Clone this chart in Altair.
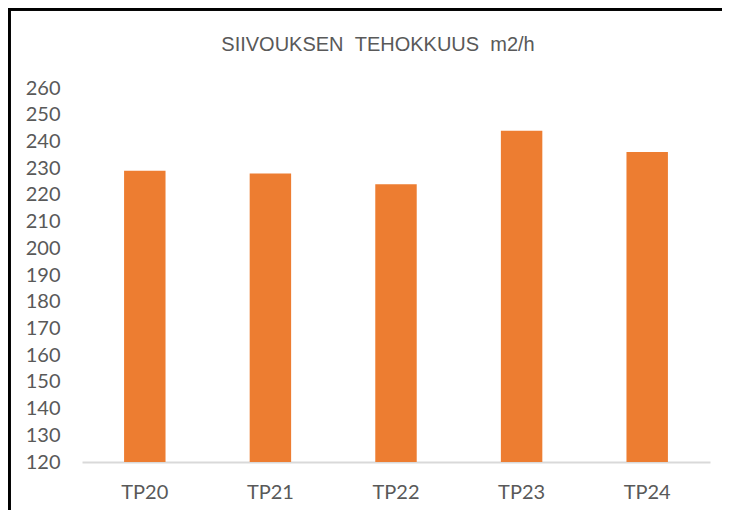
import altair as alt
import pandas as pd

categories = ["TP20", "TP21", "TP22", "TP23", "TP24"]
values = [229, 228, 224, 244, 236]
y_ticks = list(range(120, 261, 10))
title_text = "SIIVOUKSEN\u00a0\u00a0TEHOKKUUS\u00a0\u00a0m2/h"

df = pd.DataFrame({"cat": categories, "val": values})

label_font = "Lato, Calibri, sans-serif"
gray = "#595959"

bars = alt.Chart(df).mark_bar(color="#ED7D31").encode(
    x=alt.X("cat:N", sort=categories, title=None,
            scale=alt.Scale(paddingInner=0.67, paddingOuter=0.335),
            axis=alt.Axis(labelAngle=0, ticks=False, domainColor="#d9d9d9", domainWidth=2,
                          labelPadding=20, labelFontSize=20, labelColor=gray, labelFont=label_font)),
    y=alt.Y("val:Q", title=None,
            scale=alt.Scale(domain=[120, 260], zero=False, nice=False),
            axis=alt.Axis(values=y_ticks, grid=False, domain=False, ticks=False,
                          labelPadding=22, labelFontSize=20, labelColor=gray, labelFont=label_font)),
    y2=alt.datum(120),
)

frame_left = alt.Chart(df).mark_rule(color="black", strokeWidth=3, clip=False).encode(
    x=alt.value(-73), y=alt.value(-80), y2=alt.value(460)
)
frame_top = alt.Chart(df).mark_rule(color="black", strokeWidth=3, clip=False).encode(
    x=alt.value(-74), x2=alt.value(660), y=alt.value(-79)
)

title = alt.Chart(pd.DataFrame({"t": [title_text]})).mark_text(
    font="Liberation Sans, Arial, sans-serif",
    fontSize=20, color=gray, align="center", baseline="middle",
).encode(text="t:N", x=alt.value(296), y=alt.value(-43))

chart = alt.layer(bars, frame_left, frame_top, title).properties(
    width=628, height=374,
    autosize=alt.AutoSizeParams(type="none"),
    padding={"left": 74, "top": 80, "right": 12, "bottom": 48},
).configure_view(stroke=None)

chart.save("out.html", embed_options={"renderer": "svg", "actions": False})
